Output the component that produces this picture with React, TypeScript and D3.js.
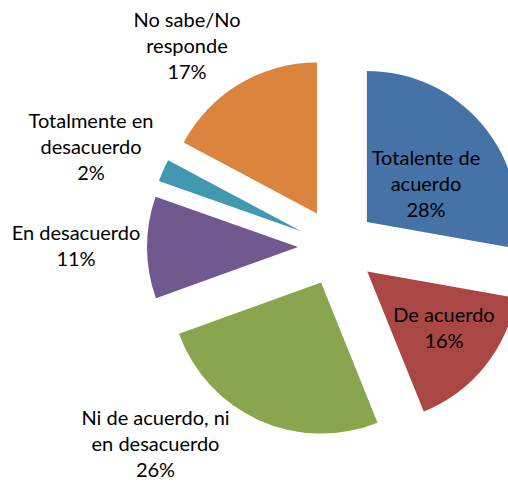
import React from "react";
import * as d3 from "d3";

const categories = [
  "Totalente de acuerdo",
  "De acuerdo",
  "Ni de acuerdo, ni en desacuerdo",
  "En desacuerdo",
  "Totalmente en desacuerdo",
  "No sabe/No responde",
];
const values = [27.8, 16.1, 25.6, 10.9, 2.4, 17.2];
const labelLines = [
  ["Totalente de", "acuerdo"],
  ["De acuerdo"],
  ["Ni de acuerdo, ni", "en desacuerdo"],
  ["En desacuerdo"],
  ["Totalmente en", "desacuerdo"],
  ["No sabe/No", "responde"],
];
const colors = ["#4572A7", "#AA4643", "#89A54E", "#71588F", "#4198AF", "#DB843D"];

// layout (label anchor relative to pie centre: x offset, first baseline offset)
const labelLayout = [
  [89, -82],
  [107, 75],
  [-181.5, 178],
  [-261, -7],
  [-246, -119],
  [-150, -220],
];

const W = 508;
const H = 483;
const CX = 337;
const CY = 247;
const R = 151;
const EXPLODE = 39;
const LINE = 26;

export default function App() {
  const total = d3.sum(values);
  const pie = d3
    .pie<number>()
    .sort(null)
    .startAngle(0)
    .endAngle(2 * Math.PI)
    .value((d) => d);
  const arcs = pie(values);
  const arc = d3.arc<d3.PieArcDatum<number>>().innerRadius(0).outerRadius(R);

  return (
    <svg
      width={W}
      height={H}
      style={{ position: "absolute", left: 0, top: 0, background: "#fff" }}
      fontFamily="Lato, 'Open Sans', sans-serif"
      fontSize={20}
    >
      <g transform={`translate(${CX},${CY})`}>
        {arcs.map((a, i) => {
          const mid = (a.startAngle + a.endAngle) / 2;
          const dx = Math.sin(mid) * EXPLODE;
          const dy = -Math.cos(mid) * EXPLODE;
          return (
            <path
              key={categories[i]}
              d={arc(a) || ""}
              fill={colors[i]}
              transform={`translate(${dx},${dy})`}
            />
          );
        })}
        {arcs.map((a, i) => {
          const [lx, ly] = labelLayout[i];
          const lines = [...labelLines[i], `${Math.round((a.value / total) * 100)}%`];
          return (
            <text key={"l" + i} textAnchor="middle" fill="#000">
              {lines.map((t, j) => (
                <tspan key={j} x={lx} y={ly + j * LINE}>
                  {t}
                </tspan>
              ))}
            </text>
          );
        })}
      </g>
    </svg>
  );
}
